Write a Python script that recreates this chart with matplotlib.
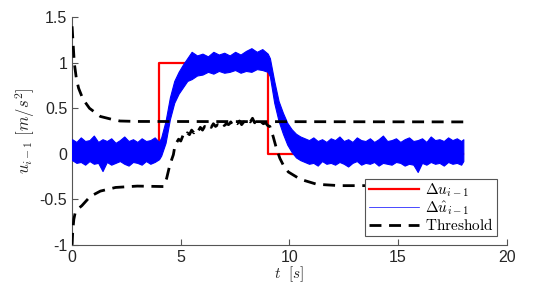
import matplotlib
matplotlib.use('Agg')
import matplotlib.pyplot as plt
from matplotlib.lines import Line2D

plt.rcParams['mathtext.fontset'] = 'cm'
plt.rcParams['font.family'] = ['Liberation Sans', 'DejaVu Sans']

# reference input step (red)
ref_t = [0, 4.0, 4.0, 9.0, 9.0, 18.0]
ref_u = [0, 0, 1, 1, 0, 0]

# estimated signal (blue), read as upper / lower edge of the noise band
est_t = [0, 0.2, 0.4, 0.6, 0.8, 1.0, 1.2, 1.4, 1.6, 1.8, 2.0, 2.2, 2.4, 2.6,
         2.8, 3.0, 3.2, 3.4, 3.6, 3.8, 4.0,
         4.1, 4.3, 4.5, 4.7, 4.9, 5.1, 5.3, 5.5, 5.75, 6.0, 6.25, 6.5, 6.75,
         7.0, 7.25, 7.5, 7.75, 8.0, 8.25, 8.5, 8.75, 9.0,
         9.1, 9.3, 9.5, 9.7, 9.9, 10.1, 10.3, 10.5,
         10.7, 10.9, 11.1, 11.3, 11.5, 11.7, 11.9, 12.1, 12.3, 12.5,
         12.7, 12.9, 13.1, 13.3, 13.5, 13.7, 13.9, 14.1, 14.3, 14.5,
         14.7, 14.9, 15.1, 15.3, 15.5, 15.7, 15.9, 16.1, 16.3, 16.5,
         16.7, 16.9, 17.1, 17.3, 17.5, 17.7, 17.9, 18.0]
est_hi = [0.16, 0.13, 0.18, 0.14, 0.15, 0.20, 0.13, 0.16, 0.14, 0.17, 0.12,
          0.15, 0.19, 0.14, 0.16, 0.13, 0.17, 0.14, 0.15, 0.18, 0.13,
          0.18, 0.36, 0.62, 0.80, 0.90, 0.98, 1.05, 1.12, 1.08, 1.10, 1.07,
          1.12, 1.09, 1.11, 1.08, 1.12, 1.09, 1.13, 1.16, 1.12, 1.15, 1.10,
          1.05, 0.80, 0.58, 0.45, 0.34, 0.27, 0.22, 0.19,
          0.17, 0.15, 0.18, 0.14, 0.16, 0.13, 0.17, 0.15, 0.19, 0.14,
          0.16, 0.13, 0.18, 0.15, 0.14, 0.17, 0.13, 0.16, 0.20, 0.14,
          0.15, 0.17, 0.13, 0.16, 0.18, 0.14, 0.15, 0.17, 0.13, 0.19,
          0.15, 0.16, 0.14, 0.18, 0.15, 0.17, 0.14, 0.16]
est_lo = [-0.07, -0.10, -0.09, -0.12, -0.08, -0.11, -0.10, -0.19, -0.09,
          -0.12, -0.10, -0.08, -0.11, -0.13, -0.09, -0.10, -0.12, -0.08,
          -0.11, -0.09, -0.06,
          -0.02, 0.12, 0.38, 0.56, 0.66, 0.73, 0.80, 0.82, 0.86, 0.87, 0.90,
          0.88, 0.91, 0.89, 0.90, 0.92, 0.89, 0.91, 0.90, 0.93, 0.92, 0.90,
          0.85, 0.56, 0.36, 0.22, 0.10, 0.02, -0.04, -0.07,
          -0.09, -0.11, -0.10, -0.13, -0.08, -0.11, -0.10, -0.12, -0.09,
          -0.11, -0.14, -0.10, -0.08, -0.12, -0.10, -0.11, -0.09, -0.13,
          -0.10, -0.11, -0.12, -0.09, -0.10, -0.13, -0.11, -0.12, -0.20,
          -0.10, -0.12, -0.09, -0.11, -0.10, -0.13, -0.09, -0.11, -0.10,
          -0.12, -0.08]

# thresholds (black dashed)
thr_up_t = [0, 0.05, 0.1, 0.2, 0.3, 0.5, 0.8, 1.3, 1.8, 2.2, 3.0, 18.0]
thr_up = [1.40, 1.20, 1.00, 0.82, 0.72, 0.60, 0.50, 0.41, 0.38, 0.36, 0.355, 0.35]

thr_lo_t = [0, 0.03, 0.08, 0.14, 0.25, 0.45, 0.83, 1.3, 2.0, 3.0, 4.2,
            4.35, 4.5, 4.66, 4.74,
            4.8, 4.9, 5.0, 5.1, 5.2, 5.3, 5.4, 5.5, 5.6, 5.7, 5.8, 5.9, 6.0,
            6.1, 6.2, 6.3, 6.4, 6.5, 6.6, 6.7, 6.8, 6.9, 7.0, 7.1, 7.2, 7.3,
            7.4, 7.5, 7.6, 7.7, 7.8, 7.9, 8.0, 8.1, 8.2, 8.3, 8.4, 8.5, 8.6,
            8.7, 8.8, 8.9, 9.0,
            9.1, 9.25, 9.4, 9.56, 9.75, 9.95, 10.5, 11.26, 12.3, 18.0]
thr_lo = [-1.0, -0.85, -0.72, -0.65, -0.61, -0.57, -0.47, -0.41, -0.37,
          -0.355, -0.36,
          -0.27, -0.12, -0.01, 0.10,
          0.12, 0.16, 0.14, 0.20, 0.18, 0.23, 0.21, 0.26, 0.23, 0.27, 0.25,
          0.29, 0.26, 0.30, 0.28, 0.31, 0.29, 0.33, 0.30, 0.32, 0.31, 0.34,
          0.31, 0.33, 0.32, 0.35, 0.31, 0.34, 0.33, 0.36, 0.32, 0.35, 0.34,
          0.37, 0.35, 0.39, 0.34, 0.38, 0.36, 0.35, 0.33, 0.34, 0.31,
          0.30, 0.19, 0.06, -0.05, -0.14, -0.20, -0.28, -0.335, -0.35, -0.35]

fig = plt.figure(figsize=(5.38, 2.87), dpi=100)
ax = fig.add_axes([0.134, 0.147, 0.808, 0.793])

dash = (0, (4.3, 2.75))
ax.plot(ref_t, ref_u, color='#ff0000', lw=1.6, zorder=2)
ax.fill_between(est_t, est_lo, est_hi, color='#0000ff', lw=0.8,
                edgecolor='#0000ff', zorder=3)
ax.plot(thr_up_t, thr_up, color='k', lw=2.0, linestyle=dash, zorder=4)
ax.plot(thr_lo_t, thr_lo, color='k', lw=2.0, linestyle=dash, zorder=4)

ax.set_xlim(0, 20)
ax.set_ylim(-1, 1.5)
ax.set_xticks([0, 5, 10, 15, 20])
ax.set_yticks([-1, -0.5, 0, 0.5, 1, 1.5])
ax.set_yticklabels(['-1', '-0.5', '0', '0.5', '1', '1.5'])
for s in ['top', 'right']:
    ax.spines[s].set_visible(False)
for s in ['left', 'bottom']:
    ax.spines[s].set_color('#555555')
    ax.spines[s].set_linewidth(0.8)
ax.tick_params(direction='in', length=4, width=0.8, color='#555555',
               labelsize=11.5, labelcolor='#262626')
ax.tick_params(axis='x', pad=4)

ax.set_xlabel(r'$t\ \ [s]$', fontsize=11, labelpad=-0.5, color='#262626')
ax.set_ylabel(r'$u_{i-1}\ [m/s^2]$', fontsize=12, labelpad=2, color='#262626')

handles = [
    Line2D([], [], color='#ff0000', lw=1.6),
    Line2D([], [], color='#0000ff', lw=0.5),
    Line2D([], [], color='k', lw=2.0, linestyle=dash),
]
labels = [r'$\Delta u_{i-1}$', r'$\Delta \hat{u}_{i-1}$', r'$\mathrm{Threshold}$']
leg = ax.legend(handles, labels, loc='lower right',
                bbox_to_anchor=(0.977, 0.038), borderaxespad=0,
                fontsize=11, fancybox=False, framealpha=1,
                handlelength=3.3, handletextpad=0.4, labelspacing=0.0,
                borderpad=0.2)
leg.get_frame().set_edgecolor('#555555')
leg.get_frame().set_linewidth(0.8)

fig.savefig('out.png', dpi=100)
